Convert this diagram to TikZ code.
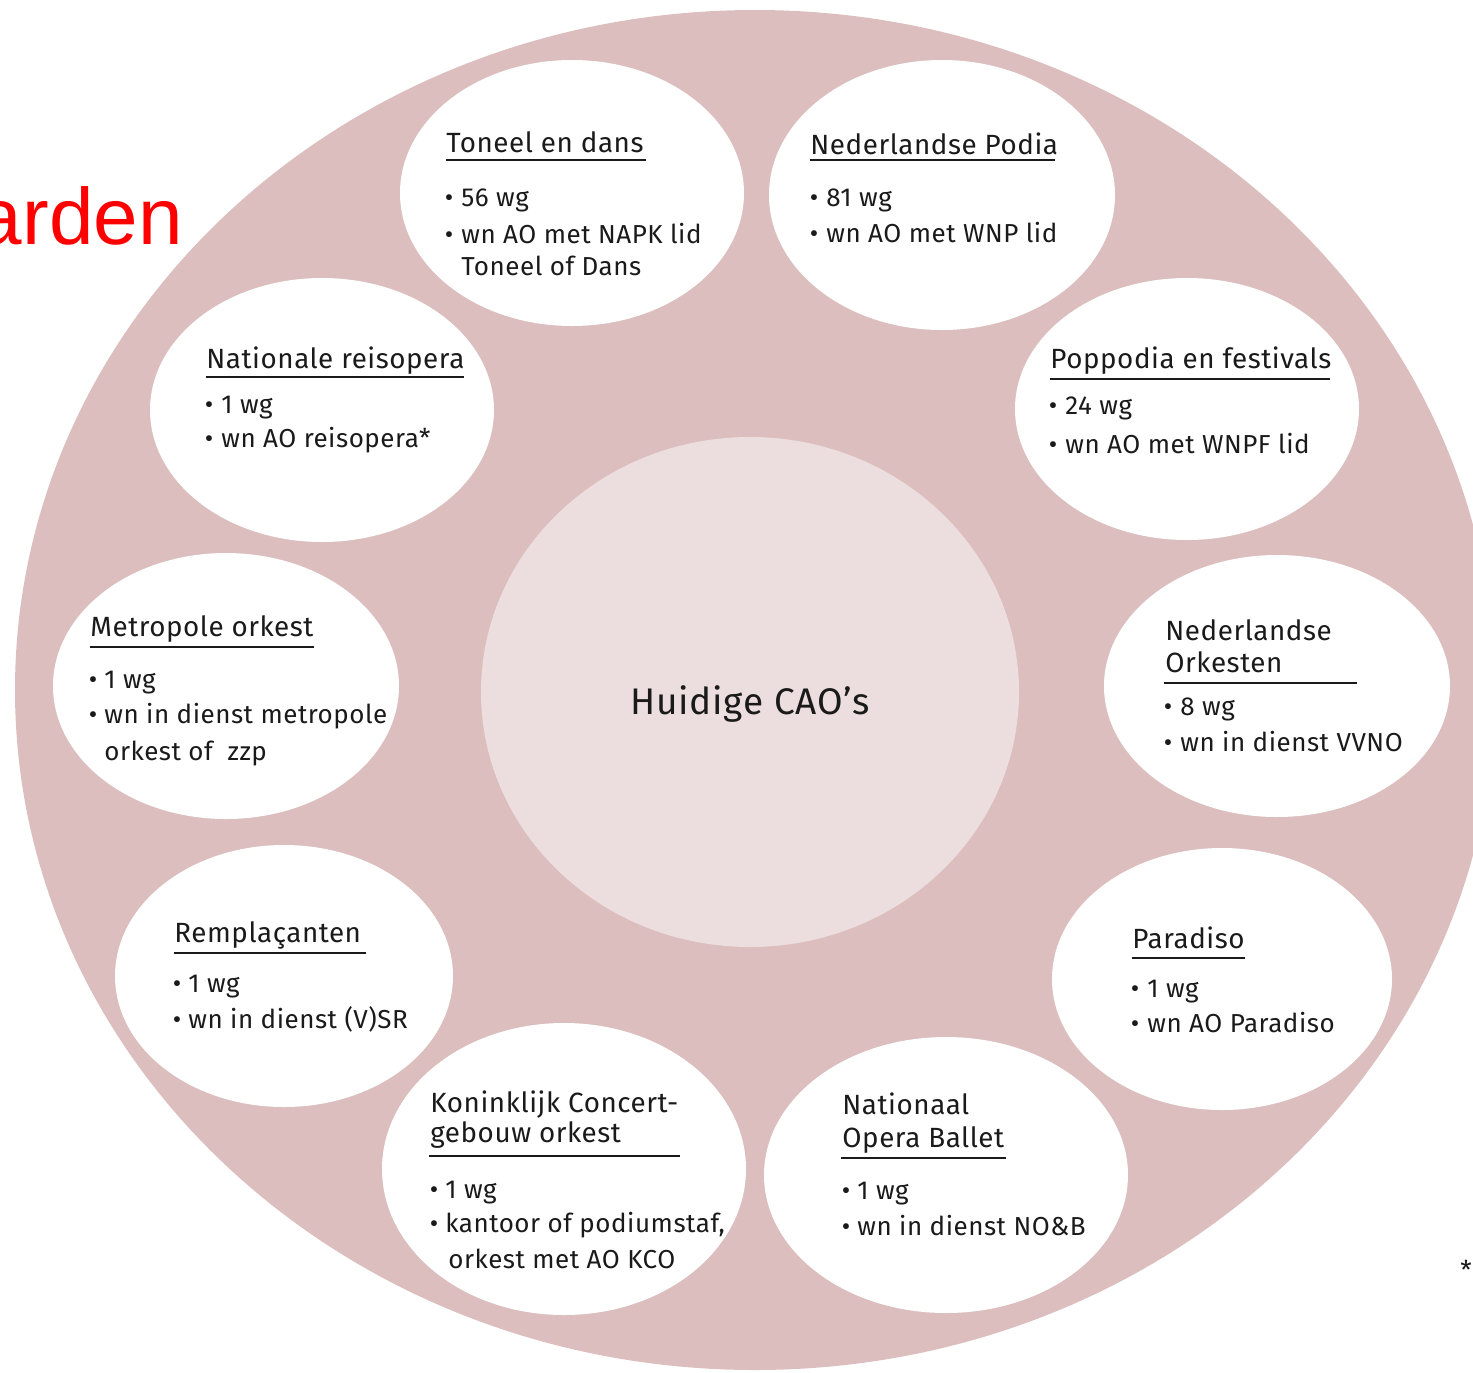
\documentclass[tikz,border=0pt]{standalone}
\usepackage{fontspec}
\setmainfont{Fira Sans}[LetterSpace=2]
\newfontfamily\redfont{Liberation Sans}
\usetikzlibrary{shapes.geometric}
\definecolor{outerpink}{HTML}{DBBEBD}
\definecolor{innerpink}{HTML}{ECDEDE}
\definecolor{ink}{HTML}{1A1A1A}
\newcommand\bodyfont{\fontsize{13}{15}\selectfont}
\newcommand\titlefont{\fontsize{13.9}{16}\selectfont}
\begin{document}
\begin{tikzpicture}[x=0.5pt,y=-0.5pt,
  bubble/.style={ellipse, fill=white, inner sep=0pt, outer sep=0pt},
  ttl/.style={anchor=base west, inner sep=0pt, font=\titlefont, text=ink},
  itm/.style={anchor=base west, inner sep=0pt, font=\bodyfont, text=ink},
  bul/.style={anchor=base, inner sep=0pt, font=\bodyfont, text=ink},
  uline/.style={draw=ink, line width=0.8pt}]
\useasboundingbox (0,0) rectangle (1473,1372);
\clip (0,0) rectangle (1473,1372);
% outer disc and centre
\node[ellipse, fill=outerpink, inner sep=0pt, minimum width=740pt, minimum height=680pt] (outer) at (755,690) {};
\node[ellipse, fill=innerpink, inner sep=0pt, minimum width=269pt, minimum height=255pt] (centre) at (750,692) {};
\node[anchor=base, inner sep=0pt, font=\fontsize{18.5}{22}\selectfont, text=ink] (centretxt) at (750,714) {Huidige CAO’s};
% bubbles
\node[bubble, minimum width=172pt, minimum height=133pt] (b1) at (572,193) {};
\node[bubble, minimum width=173pt, minimum height=135pt] (b2) at (942,195) {};
\node[bubble, minimum width=172pt, minimum height=132pt] (b3) at (322,410) {};
\node[bubble, minimum width=172pt, minimum height=131pt] (b4) at (1187,409) {};
\node[bubble, minimum width=173pt, minimum height=133pt] (b5) at (226,686) {};
\node[bubble, minimum width=173pt, minimum height=131pt] (b6) at (1277,686) {};
\node[bubble, minimum width=169pt, minimum height=131pt] (b7) at (284,976) {};
\node[bubble, minimum width=170pt, minimum height=131pt] (b8) at (1222,979) {};
\node[bubble, minimum width=182pt, minimum height=146pt] (b9) at (564,1169) {};
\node[bubble, minimum width=182pt, minimum height=138pt] (b10) at (946,1175) {};
% b1
\node[ttl] (t1) at (446,152) {Toneel en dans};
\draw[uline] (446,160) -- (646,160);
\node[bul] (t1b1) at (449,206) {•};
\node[itm] (t1i1) at (461,206) {56 wg};
\node[bul] (t1b2) at (449,243) {•};
\node[itm] (t1i2) at (461,243) {wn AO met NAPK lid};
\node[itm] (t1i3) at (461,275) {Toneel of Dans};
% b2
\node[ttl] (t2) at (810,154) {Nederlandse Podia};
\draw[uline] (810,160) -- (1055,160);
\node[bul] (t2b1) at (814,206) {•};
\node[itm] (t2i1) at (826,206) {81 wg};
\node[bul] (t2b2) at (814,242) {•};
\node[itm] (t2i2) at (826,242) {wn AO met WNP lid};
% b3
\node[ttl] (t3) at (206,368) {Nationale reisopera};
\draw[uline] (206,377) -- (464,377);
\node[bul] (t3b1) at (209,413) {•};
\node[itm] (t3i1) at (221,413) {1 wg};
\node[bul] (t3b2) at (209,447) {•};
\node[itm] (t3i2) at (221,447) {wn AO reisopera*};
% b4
\node[ttl] (t4) at (1050,368) {Poppodia en festivals};
\draw[uline] (1050,379) -- (1330,379);
\node[bul] (t4b1) at (1053,414) {•};
\node[itm] (t4i1) at (1065,414) {24 wg};
\node[bul] (t4b2) at (1053,453) {•};
\node[itm] (t4i2) at (1065,453) {wn AO met WNPF lid};
% b5
\node[ttl] (t5) at (90,636) {Metropole orkest};
\draw[uline] (90,647) -- (314,647);
\node[bul] (t5b1) at (93,688) {•};
\node[itm] (t5i1) at (104,688) {1 wg};
\node[bul] (t5b2) at (93,723) {•};
\node[itm] (t5i2) at (104,723) {wn in dienst metropole};
\node[itm] (t5i3) at (104,760) {orkest of\ \ zzp};
% b6
\node[ttl] (t6a) at (1165,640) {Nederlandse};
\node[ttl] (t6b) at (1165,672) {Orkesten};
\draw[uline] (1164,683) -- (1357,683);
\node[bul] (t6b1) at (1168,715) {•};
\node[itm] (t6i1) at (1180,715) {8 wg};
\node[bul] (t6b2) at (1168,751) {•};
\node[itm] (t6i2) at (1180,751) {wn in dienst VVNO};
% b7
\node[ttl] (t7) at (174,942) {Remplaçanten};
\draw[uline] (174,953) -- (366,953);
\node[bul] (t7b1) at (177,992) {•};
\node[itm] (t7i1) at (188,992) {1 wg};
\node[bul] (t7b2) at (177,1028) {•};
\node[itm] (t7i2) at (188,1028) {wn in dienst (V)SR};
% b8
\node[ttl] (t8) at (1132,948) {Paradiso};
\draw[uline] (1132,958) -- (1245,958);
\node[bul] (t8b1) at (1135,997) {•};
\node[itm] (t8i1) at (1147,997) {1 wg};
\node[bul] (t8b2) at (1135,1032) {•};
\node[itm] (t8i2) at (1147,1032) {wn AO Paradiso};
% b9
\node[ttl] (t9a) at (430,1112) {Koninklijk Concert-};
\node[ttl] (t9b) at (430,1142) {gebouw orkest};
\draw[uline] (429,1156) -- (680,1156);
\node[bul] (t9b1) at (434,1198) {•};
\node[itm] (t9i1) at (445,1198) {1 wg};
\node[bul] (t9b2) at (434,1232) {•};
\node[itm] (t9i2) at (445,1232) {kantoor of podiumstaf,};
\node[itm] (t9i3) at (448,1268) {orkest met AO KCO};
% b10
\node[ttl] (t10a) at (842,1114) {Nationaal};
\node[ttl] (t10b) at (842,1147) {Opera Ballet};
\draw[uline] (841,1158) -- (1006,1158);
\node[bul] (t10b1) at (846,1199) {•};
\node[itm] (t10i1) at (857,1199) {1 wg};
\node[bul] (t10b2) at (846,1235) {•};
\node[itm] (t10i2) at (857,1235) {wn in dienst NO\&B};
% stray texts
\node[anchor=base east, inner sep=0pt, font=\redfont\fontsize{40}{44}\selectfont, text=red] (arden) at (183,244) {arden};
\node[inner sep=0pt, font=\fontsize{13}{15}\selectfont, text=ink] (star) at (1466,1270) {*};
\end{tikzpicture}
\end{document}
